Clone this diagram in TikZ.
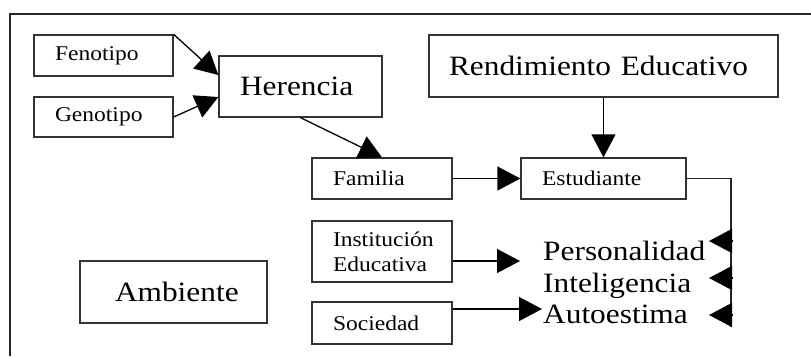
\documentclass[tikz,border=0pt]{standalone}
\usepackage{fontspec}
\setmainfont[FakeStretch=1.12]{Liberation Serif}
\usetikzlibrary{arrows.meta}
\begin{document}
\begin{tikzpicture}[x=1pt,y=-1pt,
  boxs/.style={draw=black!80, line width=1.3pt, inner xsep=21pt, inner ysep=0pt, align=left, font=\fontsize{21}{25}\selectfont},
  boxl/.style={boxs, font=\fontsize{28}{32}\selectfont},
  plain/.style={inner sep=0pt, anchor=base west, font=\fontsize{28}{32}\selectfont},
  arr/.style={line width=1.3pt, draw=black, -{Triangle[length=23pt,width=24pt]}},
  ln/.style={line width=1.3pt, draw=black!85}]
\useasboundingbox (0,0) rectangle (811,356);
\draw[ln] (10,356) -- (10,14) -- (811,14);
\node[boxs, text width=97pt, minimum height=41pt] (fen) at (103.5,55.5) {Fenotipo};
\node[boxs, text width=97pt, minimum height=40pt] (gen) at (103.5,117) {Genotipo};
\node[boxl, text width=121pt, minimum height=61pt] (her) at (300.5,86.5) {Herencia};
\node[boxs, text width=98pt, minimum height=41pt] (fam) at (382,178.5) {Familia};
\node[boxl, text width=309pt, inner xsep=20pt, minimum height=62pt] (ren) at (603.5,66) {Rendimiento\hspace{0.35em}Educativo};
\node[boxs, text width=123pt, minimum height=41pt] (est) at (603.5,178.5) {Estudiante};
\node[boxs, text width=98pt, minimum height=61pt] (ins) at (382,251.5) {Institución\\Educativa};
\node[boxs, text width=98pt, minimum height=42pt] (soc) at (382,323) {Sociedad};
\node[boxl, text width=117pt, inner xsep=35pt, minimum height=62pt] (amb) at (173.5,292) {Ambiente};
\node[plain] (per) at (543,260) {Personalidad};
\node[plain] (int) at (543,292) {Inteligencia};
\node[plain] (aut) at (543,323) {Autoestima};
\coordinate (pin) at (520,261);
\coordinate (sin) at (542,309);
\coordinate (rc) at (731,178.5);
\coordinate (rb) at (731,327);
\coordinate (a1) at (733,241);
\coordinate (a2) at (733,278);
\coordinate (a3) at (733,315);
\draw[arr] (fen.north east) -- ([yshift=11.5pt]her.west);
\draw[arr] (gen.east) -- ([yshift=-10.5pt]her.west);
\draw[arr] (her.south) -- (fam.north);
\draw[arr] (ren.south) -- (est.north);
\draw[arr] (fam.east) -- (est.west);
\draw[arr] (ins.east |- pin) -- (pin);
\draw[arr] (soc.east |- sin) -- (sin);
\draw[ln] (est.east) -- (rc) -- (rb);
\draw[arr] (a1) -- ++(-24,0);
\draw[arr] (a2) -- ++(-24,0);
\draw[arr] (a3) -- ++(-24,0);
\end{tikzpicture}
\end{document}
